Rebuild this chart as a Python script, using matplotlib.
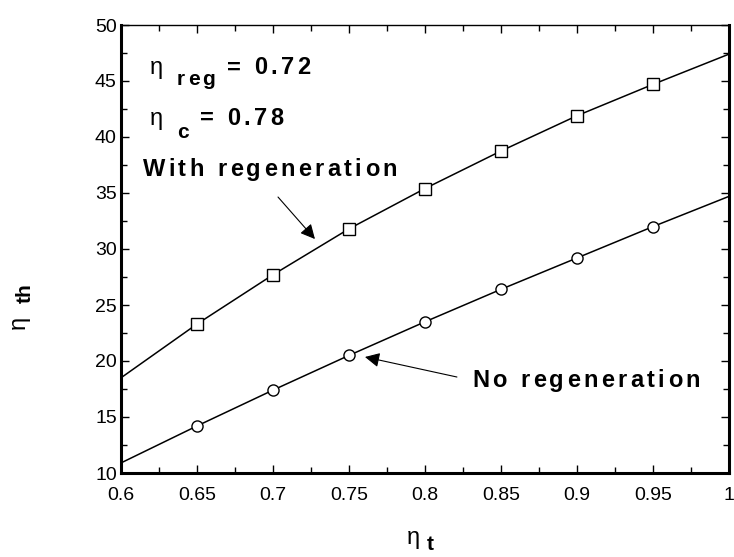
import numpy as np
import matplotlib
matplotlib.use("Agg")
import matplotlib.pyplot as plt
import matplotlib.ticker as ticker
from matplotlib.font_manager import FontProperties

# data
eta_t = [0.6, 0.65, 0.7, 0.75, 0.8, 0.85, 0.9, 0.95, 1.0]
eta_th_regen = [18.5, 23.3, 27.7, 31.8, 35.4, 38.75, 41.9, 44.7, 47.4]
eta_th_noregen = [10.9, 14.2, 17.4, 20.5, 23.5, 26.4, 29.2, 32.0, 34.7]
eta_reg = 0.72
eta_c = 0.78

W, H = 734, 557
fig = plt.figure(figsize=(W / 100, H / 100), dpi=100)
ax = fig.add_axes([121 / W, 1 - 473 / H, 608 / W, 448 / H])

reg = FontProperties(family="Liberation Sans", size=17)
bold = FontProperties(family="Liberation Sans", weight="bold", size=17)
sub = FontProperties(family="Liberation Sans", weight="bold", size=15)


def spaced(x, y, s, fp, track):
    # matplotlib has no letter spacing, so place characters one by one
    r = fig.canvas.get_renderer()
    base = r.get_text_width_height_descent("x", fp, ismath=False)[0]
    for i, ch in enumerate(s):
        if ch == " ":
            continue
        w = r.get_text_width_height_descent(s[:i] + "x", fp, ismath=False)[0] - base if i else 0
        ax.annotate(ch, (x, y), xytext=(w * 72 / fig.dpi + i * track, 0),
                    textcoords="offset points", fontproperties=fp,
                    ha="left", va="baseline")


ax.plot(eta_t, eta_th_regen, color="black", lw=1.1, marker="s", ms=8.5,
        mfc="white", mec="black", mew=1.0, markevery=slice(1, 8))
ax.plot(eta_t, eta_th_noregen, color="black", lw=1.1, marker="o", ms=8,
        mfc="white", mec="black", mew=1.0, markevery=slice(1, 8))

ax.set_xlim(0.6, 1.0)
ax.set_ylim(10, 50)
ax.xaxis.set_major_locator(ticker.MultipleLocator(0.05))
ax.xaxis.set_minor_locator(ticker.MultipleLocator(0.025))
ax.yaxis.set_major_locator(ticker.MultipleLocator(5))
ax.yaxis.set_minor_locator(ticker.MultipleLocator(2.5))
ax.xaxis.set_major_formatter(ticker.FuncFormatter(lambda v, p: "%g" % round(v, 3)))
ax.tick_params(which="both", direction="in", top=True, right=True, width=1)
ax.tick_params(which="major", length=6)
ax.tick_params(which="minor", length=4)
ax.tick_params(axis="x", pad=10)
ax.tick_params(axis="y", pad=3)
for lab in ax.get_xticklabels() + ax.get_yticklabels():
    lab.set_fontfamily("Liberation Sans")
    lab.set_fontsize(14)
for side in ["left", "bottom", "right"]:
    ax.spines[side].set_linewidth(2.2)
ax.spines["top"].set_linewidth(1.0)

# annotations
ax.annotate("η", (0.619, 45.6), fontproperties=reg, ha="left", va="baseline")
spaced(0.6368, 44.64, "reg", sub, 2.0)
spaced(0.6697, 45.6, "= %.2f" % eta_reg, bold, 2.4)
ax.annotate("η", (0.619, 41.1), fontproperties=reg, ha="left", va="baseline")
spaced(0.6368, 39.9, "c", sub, 2.0)
spaced(0.652, 41.07, "= %.2f" % eta_c, bold, 2.4)

spaced(0.6145, 36.5, "With regeneration", bold, 2.4)
spaced(0.831, 17.72, "No regeneration", bold, 2.4)

arrow = dict(arrowstyle="-|>", mutation_scale=22, lw=0.8, color="black",
             shrinkA=0, shrinkB=0)
ax.annotate("", xy=(0.7276, 30.89), xytext=(0.7033, 34.64), arrowprops=arrow)
ax.annotate("", xy=(0.7605, 20.36), xytext=(0.821, 18.57), arrowprops=arrow)

# axis titles
fig.text(19 / W, 1 - 322 / H, "η", fontproperties=reg, rotation=90,
         ha="center", va="center")
fig.text(25 / W, 1 - 293 / H, "th", fontproperties=FontProperties(
    family="Liberation Sans", weight="bold", size=15), rotation=90,
    ha="center", va="center")
fig.text(413 / W, 1 - 538 / H, "η", fontproperties=reg, ha="center", va="center")
fig.text(430 / W, 1 - 545 / H, "t", fontproperties=FontProperties(
    family="Liberation Sans", weight="bold", size=15), ha="center", va="center")

fig.savefig("out.png", dpi=100)
